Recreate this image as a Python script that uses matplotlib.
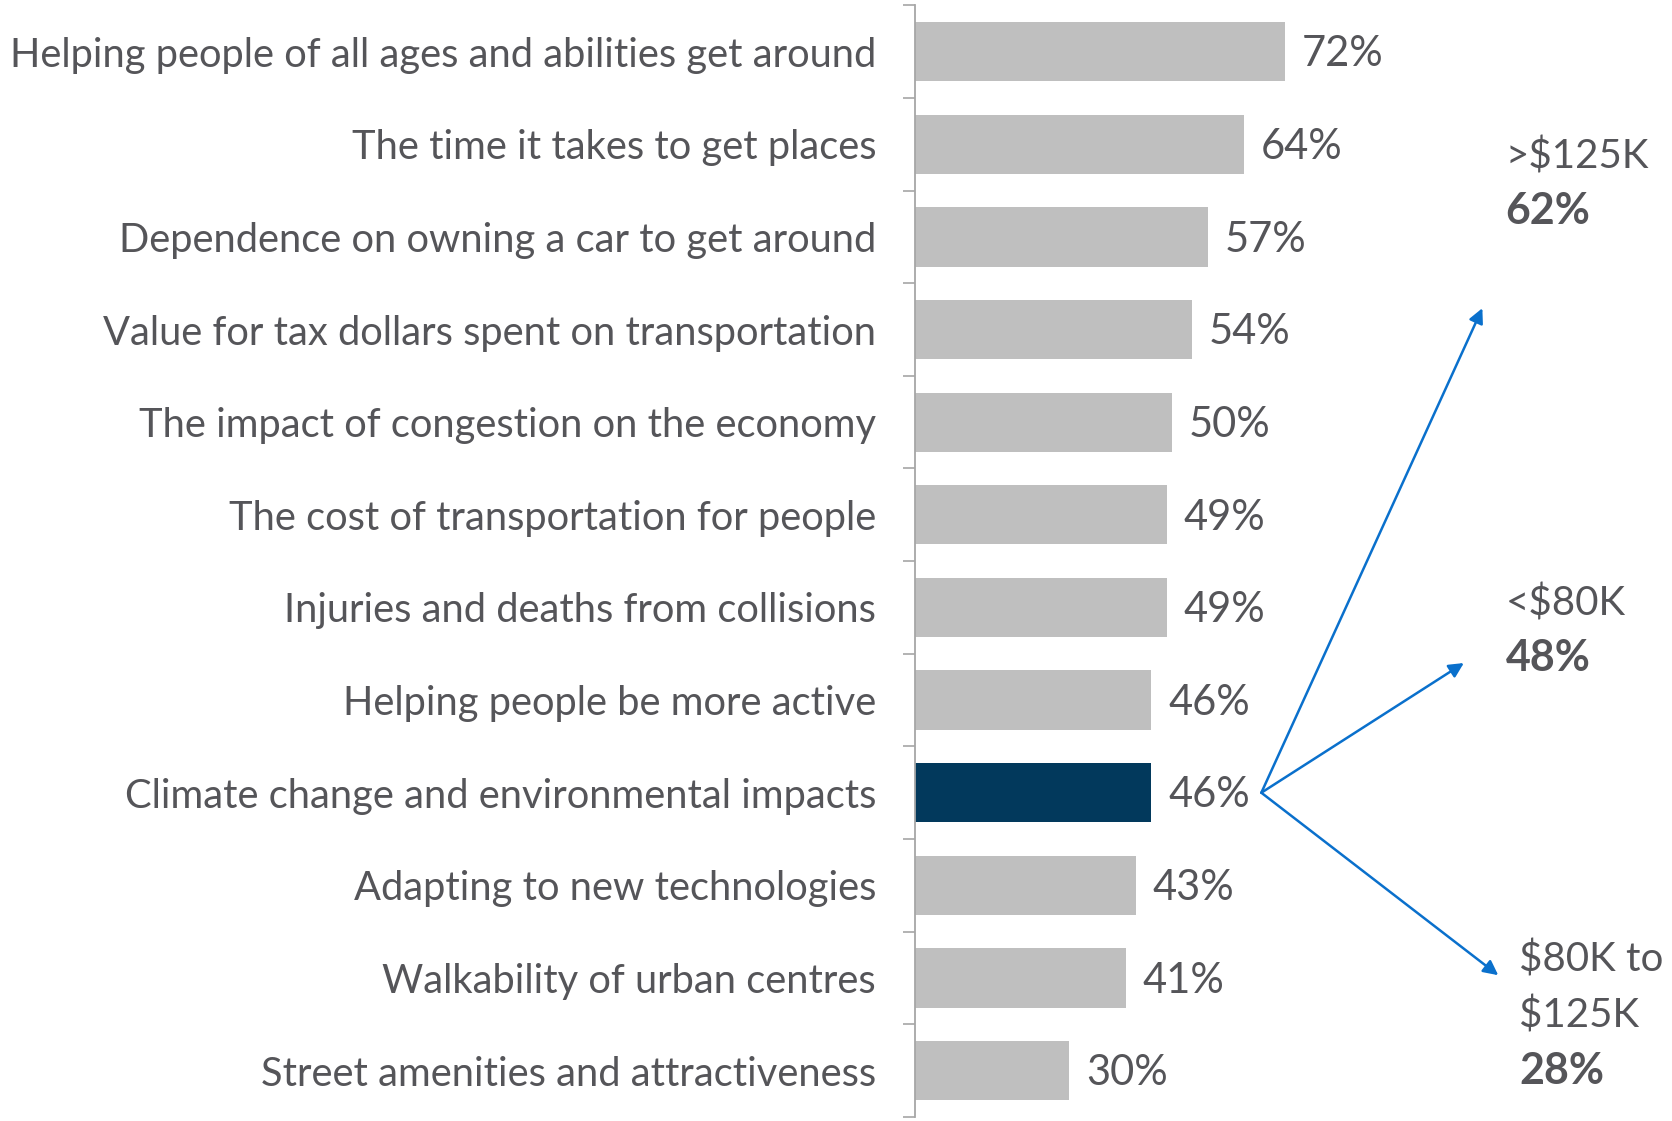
import matplotlib
matplotlib.use("Agg")
import matplotlib.pyplot as plt
from matplotlib.ticker import FixedLocator

categories = [
    "Helping people of all ages and abilities get around",
    "The time it takes to get places",
    "Dependence on owning a car to get around",
    "Value for tax dollars spent on transportation",
    "The impact of congestion on the economy",
    "The cost of transportation for people",
    "Injuries and deaths from collisions",
    "Helping people be more active",
    "Climate change and environmental impacts",
    "Adapting to new technologies",
    "Walkability of urban centres",
    "Street amenities and attractiveness",
]
values = [72, 64, 57, 54, 50, 49, 49, 46, 46, 43, 41, 30]
highlight = "Climate change and environmental impacts"

income_groups = [">$125K", "<$80K", "$80K to\n$125K"]
income_values = [62, 48, 28]

TEXT = "#555559"
GRAY = "#BFBFBF"
DARK = "#02395C"
BLUE = "#0A70CC"
FONT = "Lato"

fig = plt.figure(figsize=(16.72, 11.21), dpi=100)
ax = fig.add_axes([0.5472, 0.0036, 0.4528, 0.9917])

ypos = list(range(len(categories)))
colors = [DARK if c == highlight else GRAY for c in categories]
ax.barh(ypos, values, height=0.64, color=colors)

ax.set_ylim(len(categories) - 0.5, -0.5)
ax.set_xlim(0, 147.3)

for y, v in zip(ypos, values):
    ax.annotate(f"{v}%", xy=(v, y), xytext=(12, -2), textcoords="offset points",
                ha="left", va="center", fontsize=30, color=TEXT, family=FONT)

ax.set_yticks(ypos)
ax.set_yticklabels(categories, fontsize=28.7, color=TEXT, family=FONT)
ax.yaxis.set_minor_locator(FixedLocator([i - 0.5 for i in range(len(categories) + 1)]))
ax.tick_params(axis="y", which="major", length=0, pad=28)
ax.tick_params(axis="y", which="minor", length=9, width=1.2, color="#A6A6A6")
ax.set_xticks([])
for s in ["top", "right", "bottom"]:
    ax.spines[s].set_visible(False)
ax.spines["left"].set_color("#A6A6A6")
ax.spines["left"].set_linewidth(1.3)

# arrows from the highlighted label
hi = categories.index(highlight)
origin = (67.4, hi)
arrow_tips = [(110.4, 2.77), (106.8, 6.6), (113.5, 9.97)]
group_pos = [(114.9, 1.13), (114.9, 5.96), (117.6, 9.8)]
for tip in arrow_tips:
    ax.annotate("", xy=tip, xytext=origin, xycoords="data", textcoords="data",
                arrowprops=dict(arrowstyle="-|>", color=BLUE, lw=1.8,
                                mutation_scale=22, shrinkA=0, shrinkB=0),
                annotation_clip=False)

step = 0.61
for (gx, gy), name, val in zip(group_pos, income_groups, income_values):
    lines = name.split("\n")
    for i, ln in enumerate(lines):
        ax.text(gx, gy + i * step, ln, ha="left", va="center", fontsize=29,
                color=TEXT, family=FONT, clip_on=False)
    ax.text(gx, gy + len(lines) * step - 0.02, f"{val}%", ha="left", va="center",
            fontsize=31, color=TEXT, family=FONT, fontweight="bold", clip_on=False)

fig.savefig("out.png", dpi=100)
